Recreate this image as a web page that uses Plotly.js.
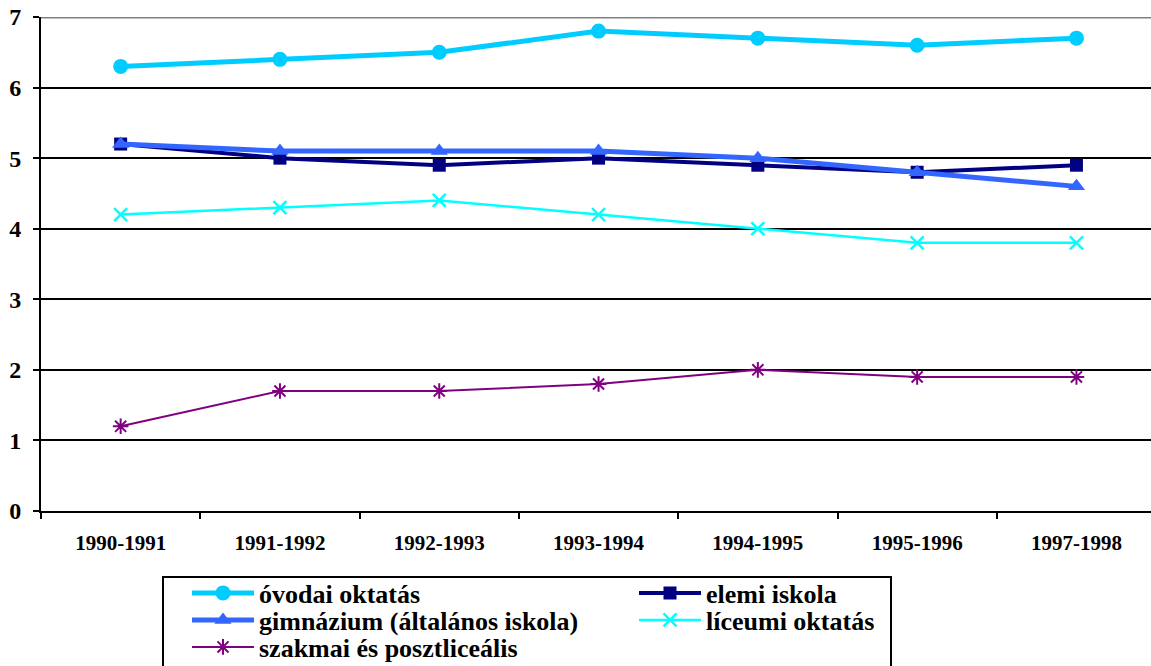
<!DOCTYPE html>
<html><head><meta charset="utf-8">
<script src="https://cdn.plot.ly/plotly-3.0.1.min.js"></script>
<style>html,body{margin:0;padding:0;background:#fff}#chart{width:1151px;height:666px}</style>
</head><body><div id="chart"></div>
<script>
const categories = ["1990-1991","1991-1992","1992-1993","1993-1994","1994-1995","1995-1996","1997-1998"];
const ovodai = [6.3, 6.4, 6.5, 6.8, 6.7, 6.6, 6.7];
const elemi = [5.2, 5.0, 4.9, 5.0, 4.9, 4.8, 4.9];
const gimnazium = [5.2, 5.1, 5.1, 5.1, 5.0, 4.8, 4.6];
const liceumi = [4.2, 4.3, 4.4, 4.2, 4.0, 3.8, 3.8];
const szakmai = [1.2, 1.7, 1.7, 1.8, 2.0, 1.9, 1.9];
const yTicks = [0,1,2,3,4,5,6,7];

const SERIF = "Liberation Serif, Times New Roman, serif";

const traces = [
  {name:"óvodai oktatás", legend:"legend", y:ovodai, line:{color:"#00CCFF", width:5}, marker:{symbol:"circle", size:15, color:"#00CCFF"}},
  {name:"elemi iskola", legend:"legend", y:elemi, line:{color:"#000080", width:4}, marker:{symbol:"square", size:13, color:"#000080"}},
  {name:"gimnázium (általános iskola)", legend:"legend2", y:gimnazium, line:{color:"#3366FF", width:5}, marker:{symbol:"triangle-up", size:15, color:"#3366FF"}},
  {name:"líceumi oktatás", legend:"legend2", y:liceumi, line:{color:"#00FFFF", width:2.5}, marker:{symbol:"x-thin", size:13, color:"#00FFFF", line:{color:"#00FFFF", width:2.5}}},
  {name:"szakmai és posztliceális", legend:"legend3", y:szakmai, line:{color:"#800080", width:2}, marker:{symbol:"asterisk", size:13, color:"#800080", line:{color:"#800080", width:2}}}
].map(t => Object.assign({type:"scatter", mode:"lines+markers", x:categories}, t));

function legendRow(yCenter){
  return {orientation:"h", xref:"container", yref:"container", x:187/1151, y:1-yCenter/666, xanchor:"left", yanchor:"middle",
    bgcolor:"rgba(0,0,0,0)", borderwidth:0, entrywidth:370, entrywidthmode:"pixels", itemwidth:62,
    font:{size:26, family:SERIF, weight:"bold", color:"#000"}, traceorder:"normal"};
}

const layout = {
  width:1151, height:666,
  margin:{l:41, r:0, t:17, b:155},
  paper_bgcolor:"#fff", plot_bgcolor:"#fff",
  font:{family:SERIF, color:"#000"},
  showlegend:true,
  xaxis:{type:"category", range:[-0.5, 6.468], tickson:"boundaries", ticks:"outside", ticklen:6, tickwidth:2, tickcolor:"#000",
    showgrid:false, showline:true, linecolor:"#000", linewidth:2, zeroline:false,
    tickfont:{size:21, family:SERIF, weight:"bold"}, ticklabelstandoff:12},
  yaxis:{range:[0,7], tickvals:yTicks, ticks:"outside", ticklen:6, tickwidth:2, tickcolor:"#000",
    showgrid:true, gridcolor:"#000", gridwidth:2, showline:true, linecolor:"#000", linewidth:2, zeroline:false,
    tickfont:{size:24, family:SERIF, weight:"bold"}, ticklabelstandoff:7},
  shapes:[
    {type:"line", xref:"paper", yref:"y", x0:0, x1:1, y0:7, y1:7, line:{color:"#808080", width:3}, layer:"above"},
    {type:"rect", xref:"paper", yref:"paper", x0:(163-41)/1110, x1:(891-41)/1110, y0:(511-577)/494, y1:(511-680)/494,
      line:{color:"#000", width:2}, fillcolor:"rgba(0,0,0,0)", layer:"above"}
  ],
  legend:legendRow(593),
  legend2:legendRow(620),
  legend3:legendRow(647)
};
Plotly.newPlot("chart", traces, layout, {displayModeBar:false, staticPlot:true});
</script></body></html>
